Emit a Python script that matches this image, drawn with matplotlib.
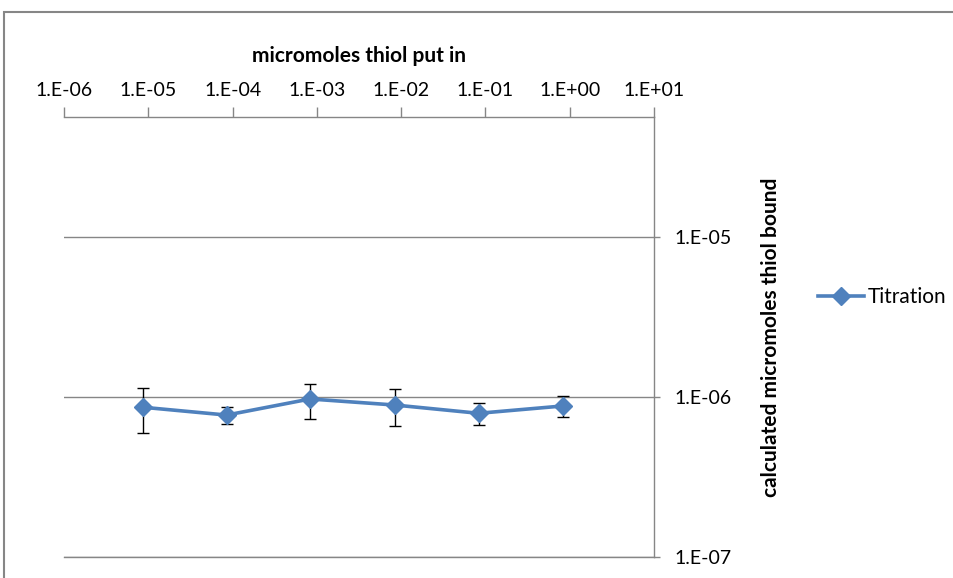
import numpy as np
import matplotlib.pyplot as plt
from matplotlib.ticker import FixedLocator, FuncFormatter, NullLocator
from matplotlib.patches import Rectangle

# data
thiol_in = [8.6e-6, 8.5e-5, 8.3e-4, 8.4e-3, 8.3e-2, 0.83]
thiol_bound = [8.63e-7, 7.71e-7, 9.72e-7, 8.91e-7, 7.91e-7, 8.79e-7]
thiol_err = [2.7e-7, 0.95e-7, 2.4e-7, 2.3e-7, 1.2e-7, 1.3e-7]
x_ticks = [1e-6, 1e-5, 1e-4, 1e-3, 1e-2, 1e-1, 1e0, 1e1]
y_ticks = [1e-7, 1e-6, 1e-5]

plt.rcParams['font.family'] = ['Lato', 'DejaVu Sans']
grey = '#868686'
blue = '#4F81BD'


def excel_sci(v, pos):
    e = int(round(np.log10(v)))
    return '1.E%s%02d' % ('-' if e < 0 else '+', abs(e))


fig = plt.figure(figsize=(9.54, 5.78), dpi=100)
fig.patches.append(Rectangle((4 / 954, -0.1), 1.1, 1 - 12 / 578 + 0.1,
                             transform=fig.transFigure, fill=False,
                             edgecolor=grey, linewidth=1.5))

ax = fig.add_axes([64 / 954, 1 - 557 / 578, (654 - 64) / 954, (557 - 117) / 578])
ax.errorbar(thiol_in, thiol_bound, yerr=thiol_err, fmt='none', ecolor='black',
            elinewidth=1, capsize=4, capthick=1, zorder=3)
ax.plot(thiol_in, thiol_bound, color=blue, linewidth=2.6, marker='D',
        markersize=9, label='Titration', zorder=4)

ax.set_xscale('log')
ax.set_yscale('log')
ax.set_xlim(1e-6, 1e1)
ax.set_ylim(1e-7, 10 ** -4.25)

ax.xaxis.set_major_locator(FixedLocator(x_ticks))
ax.xaxis.set_minor_locator(NullLocator())
ax.yaxis.set_major_locator(FixedLocator(y_ticks))
ax.yaxis.set_minor_locator(NullLocator())
ax.xaxis.set_major_formatter(FuncFormatter(excel_sci))
ax.yaxis.set_major_formatter(FuncFormatter(excel_sci))

ax.xaxis.tick_top()
ax.xaxis.set_label_position('top')
ax.yaxis.tick_right()
ax.yaxis.set_label_position('right')
ax.tick_params(axis='x', direction='out', length=7, width=1, color=grey,
               labelsize=14, pad=6)
ax.tick_params(axis='y', direction='out', length=4.5, width=1, color=grey,
               labelsize=14, pad=10)

ax.spines['left'].set_visible(False)
for side in ['top', 'right', 'bottom']:
    ax.spines[side].set_color(grey)
    ax.spines[side].set_linewidth(1)

ax.grid(axis='y', color=grey, linewidth=1)
ax.set_axisbelow(True)

ax.set_xlabel('micromoles thiol put in', fontsize=15, fontweight='bold', labelpad=14)
ax.set_ylabel('calculated micromoles thiol bound', fontsize=15, fontweight='bold',
              labelpad=21)

fig.legend(loc='center left', bbox_to_anchor=(810 / 954, 1 - 297 / 578),
           frameon=False, fontsize=15, handlelength=2.2, handletextpad=0.15,
           borderaxespad=0)

fig.savefig('out.png', dpi=100)
